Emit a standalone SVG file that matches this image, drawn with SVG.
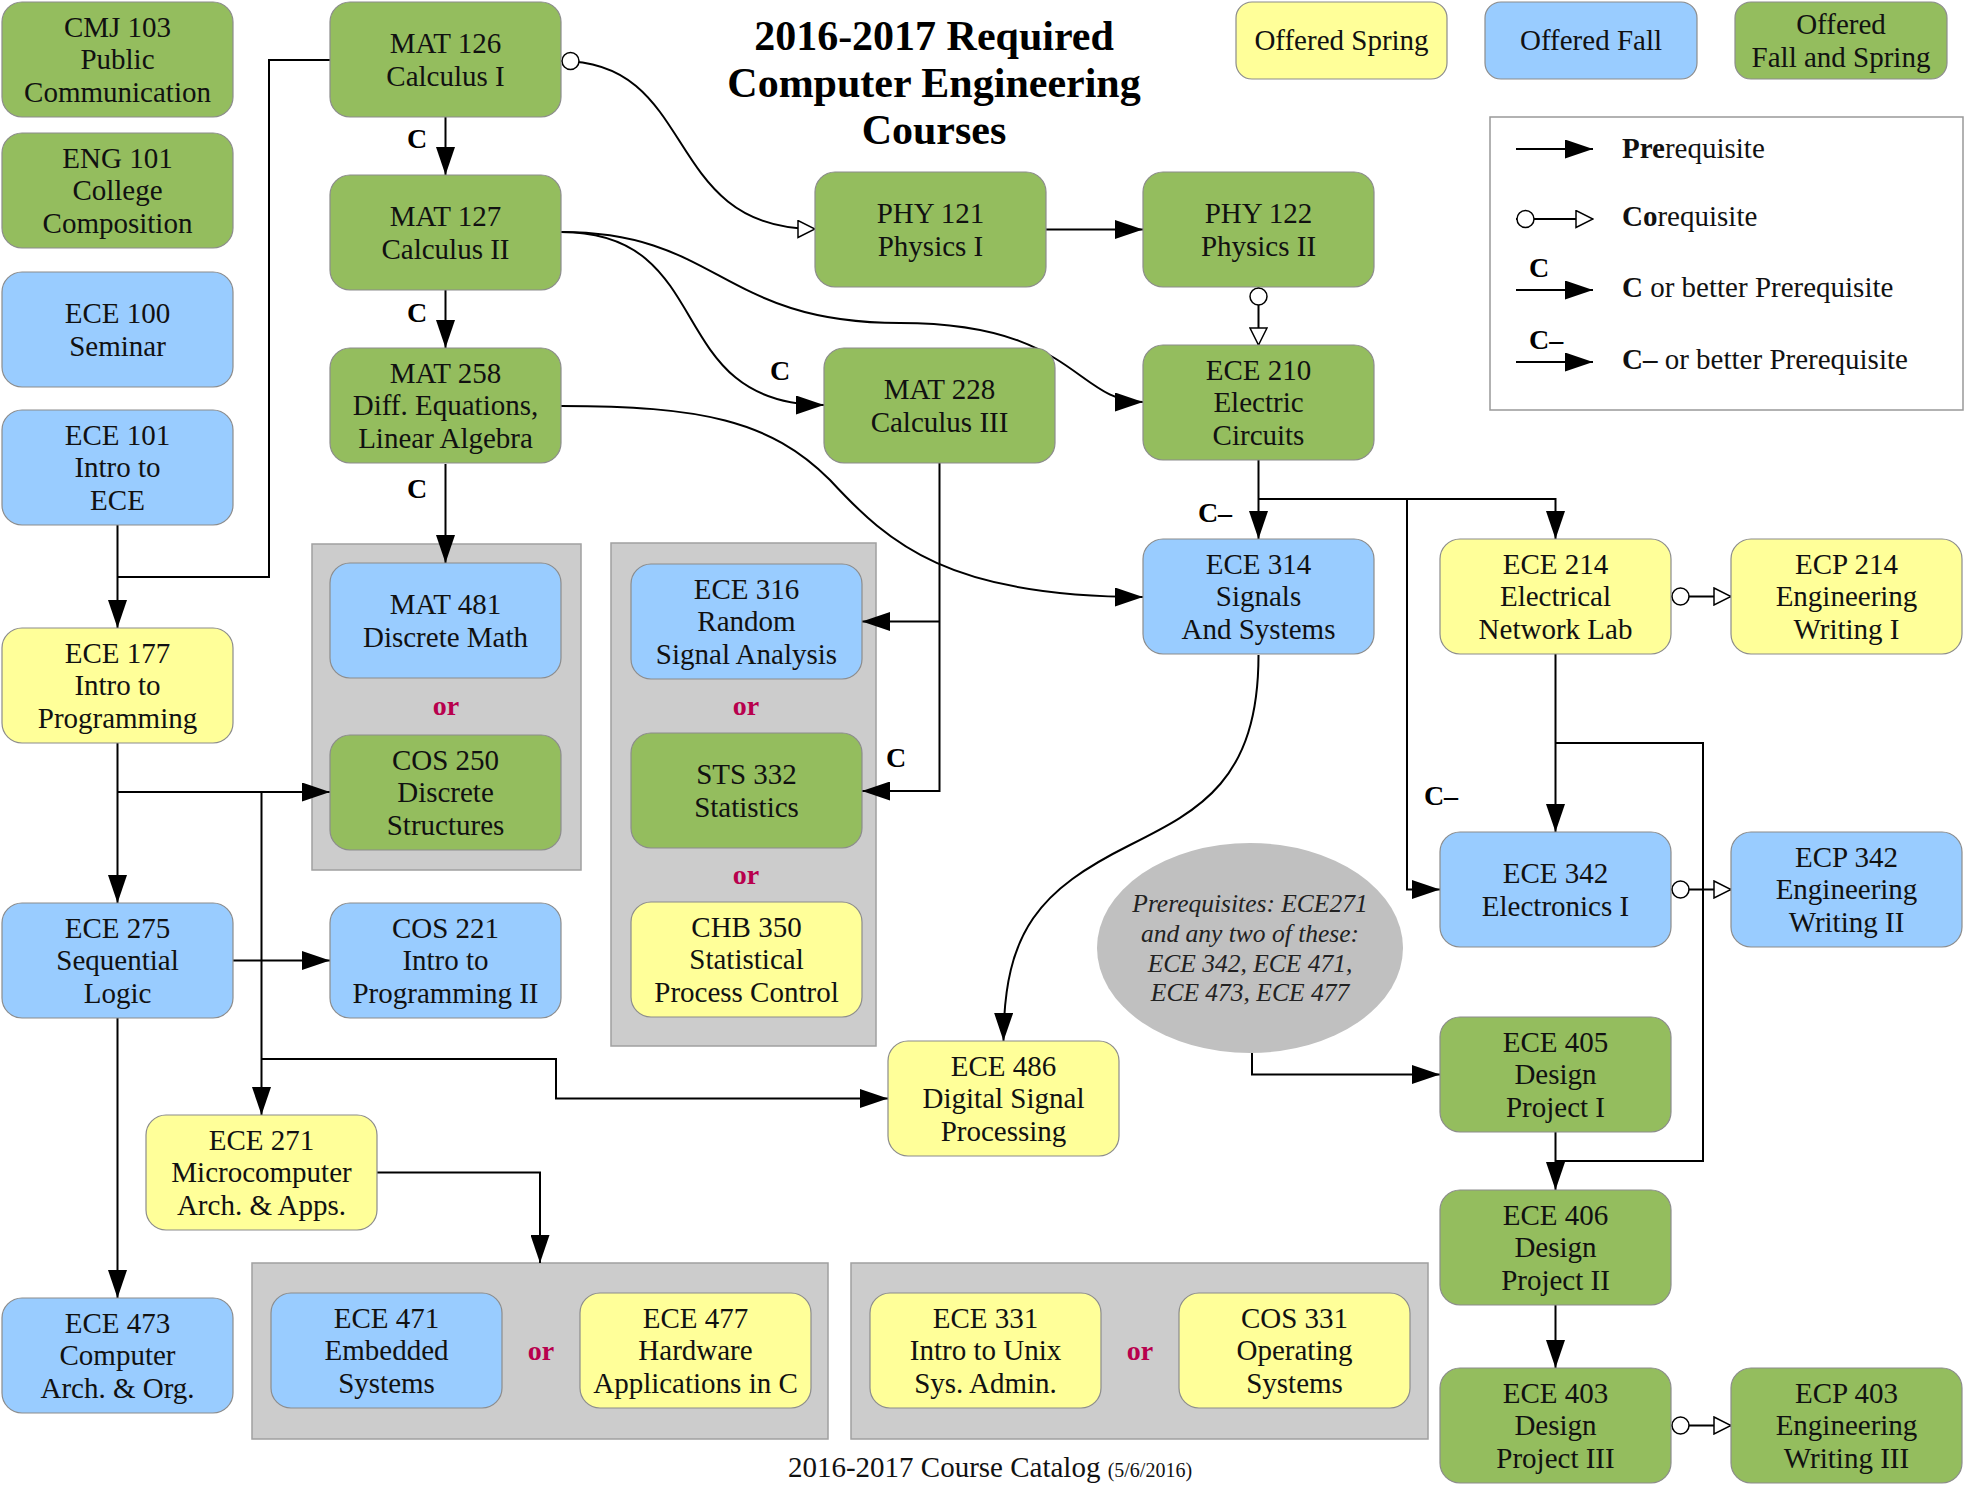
<svg xmlns="http://www.w3.org/2000/svg" width="1965" height="1485" viewBox="0 0 1965 1485">
<style>
.n{stroke:#8c8c8c;stroke-width:1.2}
.g{fill:#94bd5e}.b{fill:#99ccff}.y{fill:#ffff99}
.grp{fill:#cccccc;stroke:#a0a0a0;stroke-width:1.5}
.t{font-family:'Liberation Serif','Times New Roman',serif;font-size:29px;text-anchor:middle;fill:#111}
.or{font-family:'Liberation Serif',serif;font-size:28px;font-weight:bold;fill:#b8004d;text-anchor:middle}
.lb{font-family:'Liberation Serif',serif;font-size:28px;font-weight:bold;fill:#000}
.e{fill:none;stroke:#000;stroke-width:2}
.pa{marker-end:url(#a)}
.co{marker-start:url(#c);marker-end:url(#o)}
.ttl{font-family:'Liberation Serif',serif;font-size:42px;font-weight:bold;text-anchor:middle}
.lg{font-family:'Liberation Serif',serif;font-size:29px;fill:#111}
</style>
<defs>
<marker id="a" markerUnits="userSpaceOnUse" markerWidth="28" markerHeight="19" refX="28" refY="9.5" orient="auto"><path d="M0,0 L28,9.5 L0,19 z" fill="#000"/></marker>
<marker id="o" markerUnits="userSpaceOnUse" markerWidth="19" markerHeight="19" refX="18" refY="9.5" orient="auto"><path d="M1,1 L18,9.5 L1,18 z" fill="#fff" stroke="#000" stroke-width="1.5"/></marker>
<marker id="c" markerUnits="userSpaceOnUse" markerWidth="21" markerHeight="21" refX="1" refY="10.5" orient="auto"><circle cx="10.5" cy="10.5" r="8.5" fill="#fff" stroke="#000" stroke-width="1.5"/></marker>
</defs>

<!-- title -->
<text class="ttl"><tspan x="934" y="50">2016-2017 Required</tspan><tspan x="934" y="97">Computer Engineering</tspan><tspan x="934" y="144">Courses</tspan></text>

<!-- groups (backgrounds) -->
<rect class="grp" x="312" y="544" width="269" height="326"/>
<rect class="grp" x="611" y="543" width="265" height="503"/>
<rect class="grp" x="252" y="1263" width="576" height="176"/>
<rect class="grp" x="851" y="1263" width="577" height="176"/>
<text class="or" x="446" y="715">or</text>
<text class="or" x="746" y="715">or</text>
<text class="or" x="746" y="884">or</text>
<text class="or" x="541" y="1360">or</text>
<text class="or" x="1140" y="1360">or</text>

<!-- note ellipse -->
<g id="note">
<ellipse cx="1250" cy="948" rx="153" ry="105" fill="#c0c0c0"/>
<text style="font-family:'Liberation Serif',serif;font-size:25.5px;font-style:italic;text-anchor:middle;fill:#222"><tspan x="1250" y="912">Prerequisites: ECE271</tspan><tspan x="1250" y="942">and any two of these:</tspan><tspan x="1250" y="972">ECE 342, ECE 471,</tspan><tspan x="1250" y="1001">ECE 473, ECE 477</tspan></text>
</g>

<!-- connectors -->
<g id="connectors">
<path class="e pa" d="M445.5,117 V175"/>
<path class="e pa" d="M445.5,290 V348"/>
<path class="e pa" d="M445.5,464 V563"/>
<path class="e" d="M330,60 H269 V577 H117.5"/>
<path class="e pa" d="M117.5,525 V628"/>
<path class="e co" stroke-width="1.8" d="M561,61 C700,61 660,229 815,229"/>
<path class="e pa" d="M1046,229.5 H1143"/>
<path class="e co" d="M1258.5,287 V345"/>
<path class="e pa" stroke-width="1.8" d="M561,232 C720,232 660,405 824,405"/>
<path class="e pa" stroke-width="1.8" d="M561,232 C720,232 720,323 900,323 C1075,323 1075,402 1143,402"/>
<path class="e pa" stroke-width="1.8" d="M561,406 C700,406 770,420 830,480 C890,545 950,597 1143,597"/>
<path class="e pa" d="M939.5,463 V791 H862"/>
<path class="e pa" d="M939.5,621.5 H862"/>
<path class="e pa" d="M1258.5,460 V539"/>
<path class="e pa" d="M1258.5,499 H1555.5 V539"/>
<path class="e pa" d="M1407,499 V889.5 H1440"/>
<path class="e co" d="M1671,596.5 H1731"/>
<path class="e pa" d="M1555.5,654 V832"/>
<path class="e" d="M1555.5,743 H1703 V1161 H1555.5"/>
<path class="e pa" d="M1555.5,1132 V1190"/>
<path class="e co" d="M1671,889.5 H1731"/>
<path class="e pa" d="M1555.5,1305 V1368"/>
<path class="e co" d="M1671,1425.5 H1731"/>
<path class="e pa" d="M1252,1053 V1074.5 H1440"/>
<path class="e pa" stroke-width="1.8" d="M1258.5,655 C1258.5,780 1200,810 1130,845 C1040,890 1004,930 1003.5,1041"/>
<path class="e pa" d="M117.5,743 V903"/>
<path class="e pa" d="M117.5,792 H330"/>
<path class="e pa" d="M261.5,792 V1115"/>
<path class="e pa" d="M261.5,1059 H556 V1098.5 H888"/>
<path class="e pa" d="M233,960.5 H330"/>
<path class="e pa" d="M117.5,1018 V1298"/>
<path class="e pa" d="M377,1172.5 H540 V1263"/>
<text class="lb" x="417" y="148" text-anchor="middle">C</text>
<text class="lb" x="417" y="322" text-anchor="middle">C</text>
<text class="lb" x="417" y="498" text-anchor="middle">C</text>
<text class="lb" x="780" y="380" text-anchor="middle">C</text>
<text class="lb" x="896" y="767" text-anchor="middle">C</text>
<text class="lb" x="1215" y="522" text-anchor="middle">C–</text>
<text class="lb" x="1441" y="805" text-anchor="middle">C–</text>
</g>

<!-- nodes -->
<g id="cmj103"><rect class="n g" x="2" y="2" width="231" height="115" rx="20"/><text class="t"><tspan x="117.5" y="36.5">CMJ 103</tspan><tspan x="117.5" y="69">Public</tspan><tspan x="117.5" y="101.5">Communication</tspan></text></g>
<g id="eng101"><rect class="n g" x="2" y="133" width="231" height="115" rx="20"/><text class="t"><tspan x="117.5" y="167.5">ENG 101</tspan><tspan x="117.5" y="200">College</tspan><tspan x="117.5" y="232.5">Composition</tspan></text></g>
<g id="ece100"><rect class="n b" x="2" y="272" width="231" height="115" rx="20"/><text class="t"><tspan x="117.5" y="323">ECE 100</tspan><tspan x="117.5" y="355.5">Seminar</tspan></text></g>
<g id="ece101"><rect class="n b" x="2" y="410" width="231" height="115" rx="20"/><text class="t"><tspan x="117.5" y="444.5">ECE 101</tspan><tspan x="117.5" y="477">Intro to</tspan><tspan x="117.5" y="509.5">ECE</tspan></text></g>
<g id="ece177"><rect class="n y" x="2" y="628" width="231" height="115" rx="20"/><text class="t"><tspan x="117.5" y="662.5">ECE 177</tspan><tspan x="117.5" y="695">Intro to</tspan><tspan x="117.5" y="727.5">Programming</tspan></text></g>
<g id="ece275"><rect class="n b" x="2" y="903" width="231" height="115" rx="20"/><text class="t"><tspan x="117.5" y="937.5">ECE 275</tspan><tspan x="117.5" y="970">Sequential</tspan><tspan x="117.5" y="1002.5">Logic</tspan></text></g>
<g id="ece473"><rect class="n b" x="2" y="1298" width="231" height="115" rx="20"/><text class="t"><tspan x="117.5" y="1332.5">ECE 473</tspan><tspan x="117.5" y="1365">Computer</tspan><tspan x="117.5" y="1397.5">Arch. &amp; Org.</tspan></text></g>

<g id="mat126"><rect class="n g" x="330" y="2" width="231" height="115" rx="20"/><text class="t"><tspan x="445.5" y="53">MAT 126</tspan><tspan x="445.5" y="85.5">Calculus I</tspan></text></g>
<g id="mat127"><rect class="n g" x="330" y="175" width="231" height="115" rx="20"/><text class="t"><tspan x="445.5" y="226">MAT 127</tspan><tspan x="445.5" y="258.5">Calculus II</tspan></text></g>
<g id="mat258"><rect class="n g" x="330" y="348" width="231" height="115" rx="20"/><text class="t"><tspan x="445.5" y="382.5">MAT 258</tspan><tspan x="445.5" y="415">Diff. Equations,</tspan><tspan x="445.5" y="447.5">Linear Algebra</tspan></text></g>
<g id="mat481"><rect class="n b" x="330" y="563" width="231" height="115" rx="20"/><text class="t"><tspan x="445.5" y="614">MAT 481</tspan><tspan x="445.5" y="646.5">Discrete Math</tspan></text></g>
<g id="cos250"><rect class="n g" x="330" y="735" width="231" height="115" rx="20"/><text class="t"><tspan x="445.5" y="769.5">COS 250</tspan><tspan x="445.5" y="802">Discrete</tspan><tspan x="445.5" y="834.5">Structures</tspan></text></g>
<g id="cos221"><rect class="n b" x="330" y="903" width="231" height="115" rx="20"/><text class="t"><tspan x="445.5" y="937.5">COS 221</tspan><tspan x="445.5" y="970">Intro to</tspan><tspan x="445.5" y="1002.5">Programming II</tspan></text></g>
<g id="ece271"><rect class="n y" x="146" y="1115" width="231" height="115" rx="20"/><text class="t"><tspan x="261.5" y="1149.5">ECE 271</tspan><tspan x="261.5" y="1182">Microcomputer</tspan><tspan x="261.5" y="1214.5">Arch. &amp; Apps.</tspan></text></g>

<g id="ece471"><rect class="n b" x="271" y="1293" width="231" height="115" rx="20"/><text class="t"><tspan x="386.5" y="1327.5">ECE 471</tspan><tspan x="386.5" y="1360">Embedded</tspan><tspan x="386.5" y="1392.5">Systems</tspan></text></g>
<g id="ece477"><rect class="n y" x="580" y="1293" width="231" height="115" rx="20"/><text class="t"><tspan x="695.5" y="1327.5">ECE 477</tspan><tspan x="695.5" y="1360">Hardware</tspan><tspan x="695.5" y="1392.5">Applications in C</tspan></text></g>
<g id="ece331"><rect class="n y" x="870" y="1293" width="231" height="115" rx="20"/><text class="t"><tspan x="985.5" y="1327.5">ECE 331</tspan><tspan x="985.5" y="1360">Intro to Unix</tspan><tspan x="985.5" y="1392.5">Sys. Admin.</tspan></text></g>
<g id="cos331"><rect class="n y" x="1179" y="1293" width="231" height="115" rx="20"/><text class="t"><tspan x="1294.5" y="1327.5">COS 331</tspan><tspan x="1294.5" y="1360">Operating</tspan><tspan x="1294.5" y="1392.5">Systems</tspan></text></g>

<g id="ece316"><rect class="n b" x="631" y="564" width="231" height="115" rx="20"/><text class="t"><tspan x="746.5" y="598.5">ECE 316</tspan><tspan x="746.5" y="631">Random</tspan><tspan x="746.5" y="663.5">Signal Analysis</tspan></text></g>
<g id="sts332"><rect class="n g" x="631" y="733" width="231" height="115" rx="20"/><text class="t"><tspan x="746.5" y="784">STS 332</tspan><tspan x="746.5" y="816.5">Statistics</tspan></text></g>
<g id="chb350"><rect class="n y" x="631" y="902" width="231" height="115" rx="20"/><text class="t"><tspan x="746.5" y="936.5">CHB 350</tspan><tspan x="746.5" y="969">Statistical</tspan><tspan x="746.5" y="1001.5">Process Control</tspan></text></g>

<g id="phy121"><rect class="n g" x="815" y="172" width="231" height="115" rx="20"/><text class="t"><tspan x="930.5" y="223">PHY 121</tspan><tspan x="930.5" y="255.5">Physics I</tspan></text></g>
<g id="phy122"><rect class="n g" x="1143" y="172" width="231" height="115" rx="20"/><text class="t"><tspan x="1258.5" y="223">PHY 122</tspan><tspan x="1258.5" y="255.5">Physics II</tspan></text></g>
<g id="mat228"><rect class="n g" x="824" y="348" width="231" height="115" rx="20"/><text class="t"><tspan x="939.5" y="399">MAT 228</tspan><tspan x="939.5" y="431.5">Calculus III</tspan></text></g>
<g id="ece210"><rect class="n g" x="1143" y="345" width="231" height="115" rx="20"/><text class="t"><tspan x="1258.5" y="379.5">ECE 210</tspan><tspan x="1258.5" y="412">Electric</tspan><tspan x="1258.5" y="444.5">Circuits</tspan></text></g>
<g id="ece314"><rect class="n b" x="1143" y="539" width="231" height="115" rx="20"/><text class="t"><tspan x="1258.5" y="573.5">ECE 314</tspan><tspan x="1258.5" y="606">Signals</tspan><tspan x="1258.5" y="638.5">And Systems</tspan></text></g>
<g id="ece486"><rect class="n y" x="888" y="1041" width="231" height="115" rx="20"/><text class="t"><tspan x="1003.5" y="1075.5">ECE 486</tspan><tspan x="1003.5" y="1108">Digital Signal</tspan><tspan x="1003.5" y="1140.5">Processing</tspan></text></g>

<g id="ece214"><rect class="n y" x="1440" y="539" width="231" height="115" rx="20"/><text class="t"><tspan x="1555.5" y="573.5">ECE 214</tspan><tspan x="1555.5" y="606">Electrical</tspan><tspan x="1555.5" y="638.5">Network Lab</tspan></text></g>
<g id="ecp214"><rect class="n y" x="1731" y="539" width="231" height="115" rx="20"/><text class="t"><tspan x="1846.5" y="573.5">ECP 214</tspan><tspan x="1846.5" y="606">Engineering</tspan><tspan x="1846.5" y="638.5">Writing I</tspan></text></g>
<g id="ece342"><rect class="n b" x="1440" y="832" width="231" height="115" rx="20"/><text class="t"><tspan x="1555.5" y="883">ECE 342</tspan><tspan x="1555.5" y="915.5">Electronics I</tspan></text></g>
<g id="ecp342"><rect class="n b" x="1731" y="832" width="231" height="115" rx="20"/><text class="t"><tspan x="1846.5" y="866.5">ECP 342</tspan><tspan x="1846.5" y="899">Engineering</tspan><tspan x="1846.5" y="931.5">Writing II</tspan></text></g>
<g id="ece405"><rect class="n g" x="1440" y="1017" width="231" height="115" rx="20"/><text class="t"><tspan x="1555.5" y="1051.5">ECE 405</tspan><tspan x="1555.5" y="1084">Design</tspan><tspan x="1555.5" y="1116.5">Project I</tspan></text></g>
<g id="ece406"><rect class="n g" x="1440" y="1190" width="231" height="115" rx="20"/><text class="t"><tspan x="1555.5" y="1224.5">ECE 406</tspan><tspan x="1555.5" y="1257">Design</tspan><tspan x="1555.5" y="1289.5">Project II</tspan></text></g>
<g id="ece403"><rect class="n g" x="1440" y="1368" width="231" height="115" rx="20"/><text class="t"><tspan x="1555.5" y="1402.5">ECE 403</tspan><tspan x="1555.5" y="1435">Design</tspan><tspan x="1555.5" y="1467.5">Project III</tspan></text></g>
<g id="ecp403"><rect class="n g" x="1731" y="1368" width="231" height="115" rx="20"/><text class="t"><tspan x="1846.5" y="1402.5">ECP 403</tspan><tspan x="1846.5" y="1435">Engineering</tspan><tspan x="1846.5" y="1467.5">Writing III</tspan></text></g>

<!-- legend -->
<g id="legend-spring"><rect class="n y" x="1236" y="2" width="211" height="77" rx="16"/><text class="t" x="1341.5" y="50">Offered Spring</text></g>
<g id="legend-fall"><rect class="n b" x="1485" y="2" width="212" height="77" rx="16"/><text class="t" x="1591" y="50">Offered Fall</text></g>
<g id="legend-both"><rect class="n g" x="1735" y="2" width="212" height="77" rx="16"/><text class="t"><tspan x="1841" y="34">Offered</tspan><tspan x="1841" y="67">Fall and Spring</tspan></text></g>
<g id="legend">
<rect x="1490" y="117" width="473" height="293" fill="#fff" stroke="#999" stroke-width="1.5"/>
<path class="e pa" d="M1516,149 H1593"/>
<path class="e co" d="M1516,219 H1593"/>
<path class="e pa" d="M1516,290 H1593"/>
<path class="e pa" d="M1516,362 H1593"/>
<text class="lb" x="1529" y="277">C</text>
<text class="lb" x="1529" y="349">C–</text>
<text class="lg" x="1622" y="158"><tspan font-weight="bold">Pre</tspan>requisite</text>
<text class="lg" x="1622" y="226"><tspan font-weight="bold">Co</tspan>requisite</text>
<text class="lg" x="1622" y="297"><tspan font-weight="bold">C</tspan> or better Prerequisite</text>
<text class="lg" x="1622" y="369"><tspan font-weight="bold">C–</tspan> or better Prerequisite</text>
</g>

<!-- footer -->
<text class="t" x="990" y="1477">2016-2017 Course Catalog <tspan font-size="20px">(5/6/2016)</tspan></text>
</svg>
